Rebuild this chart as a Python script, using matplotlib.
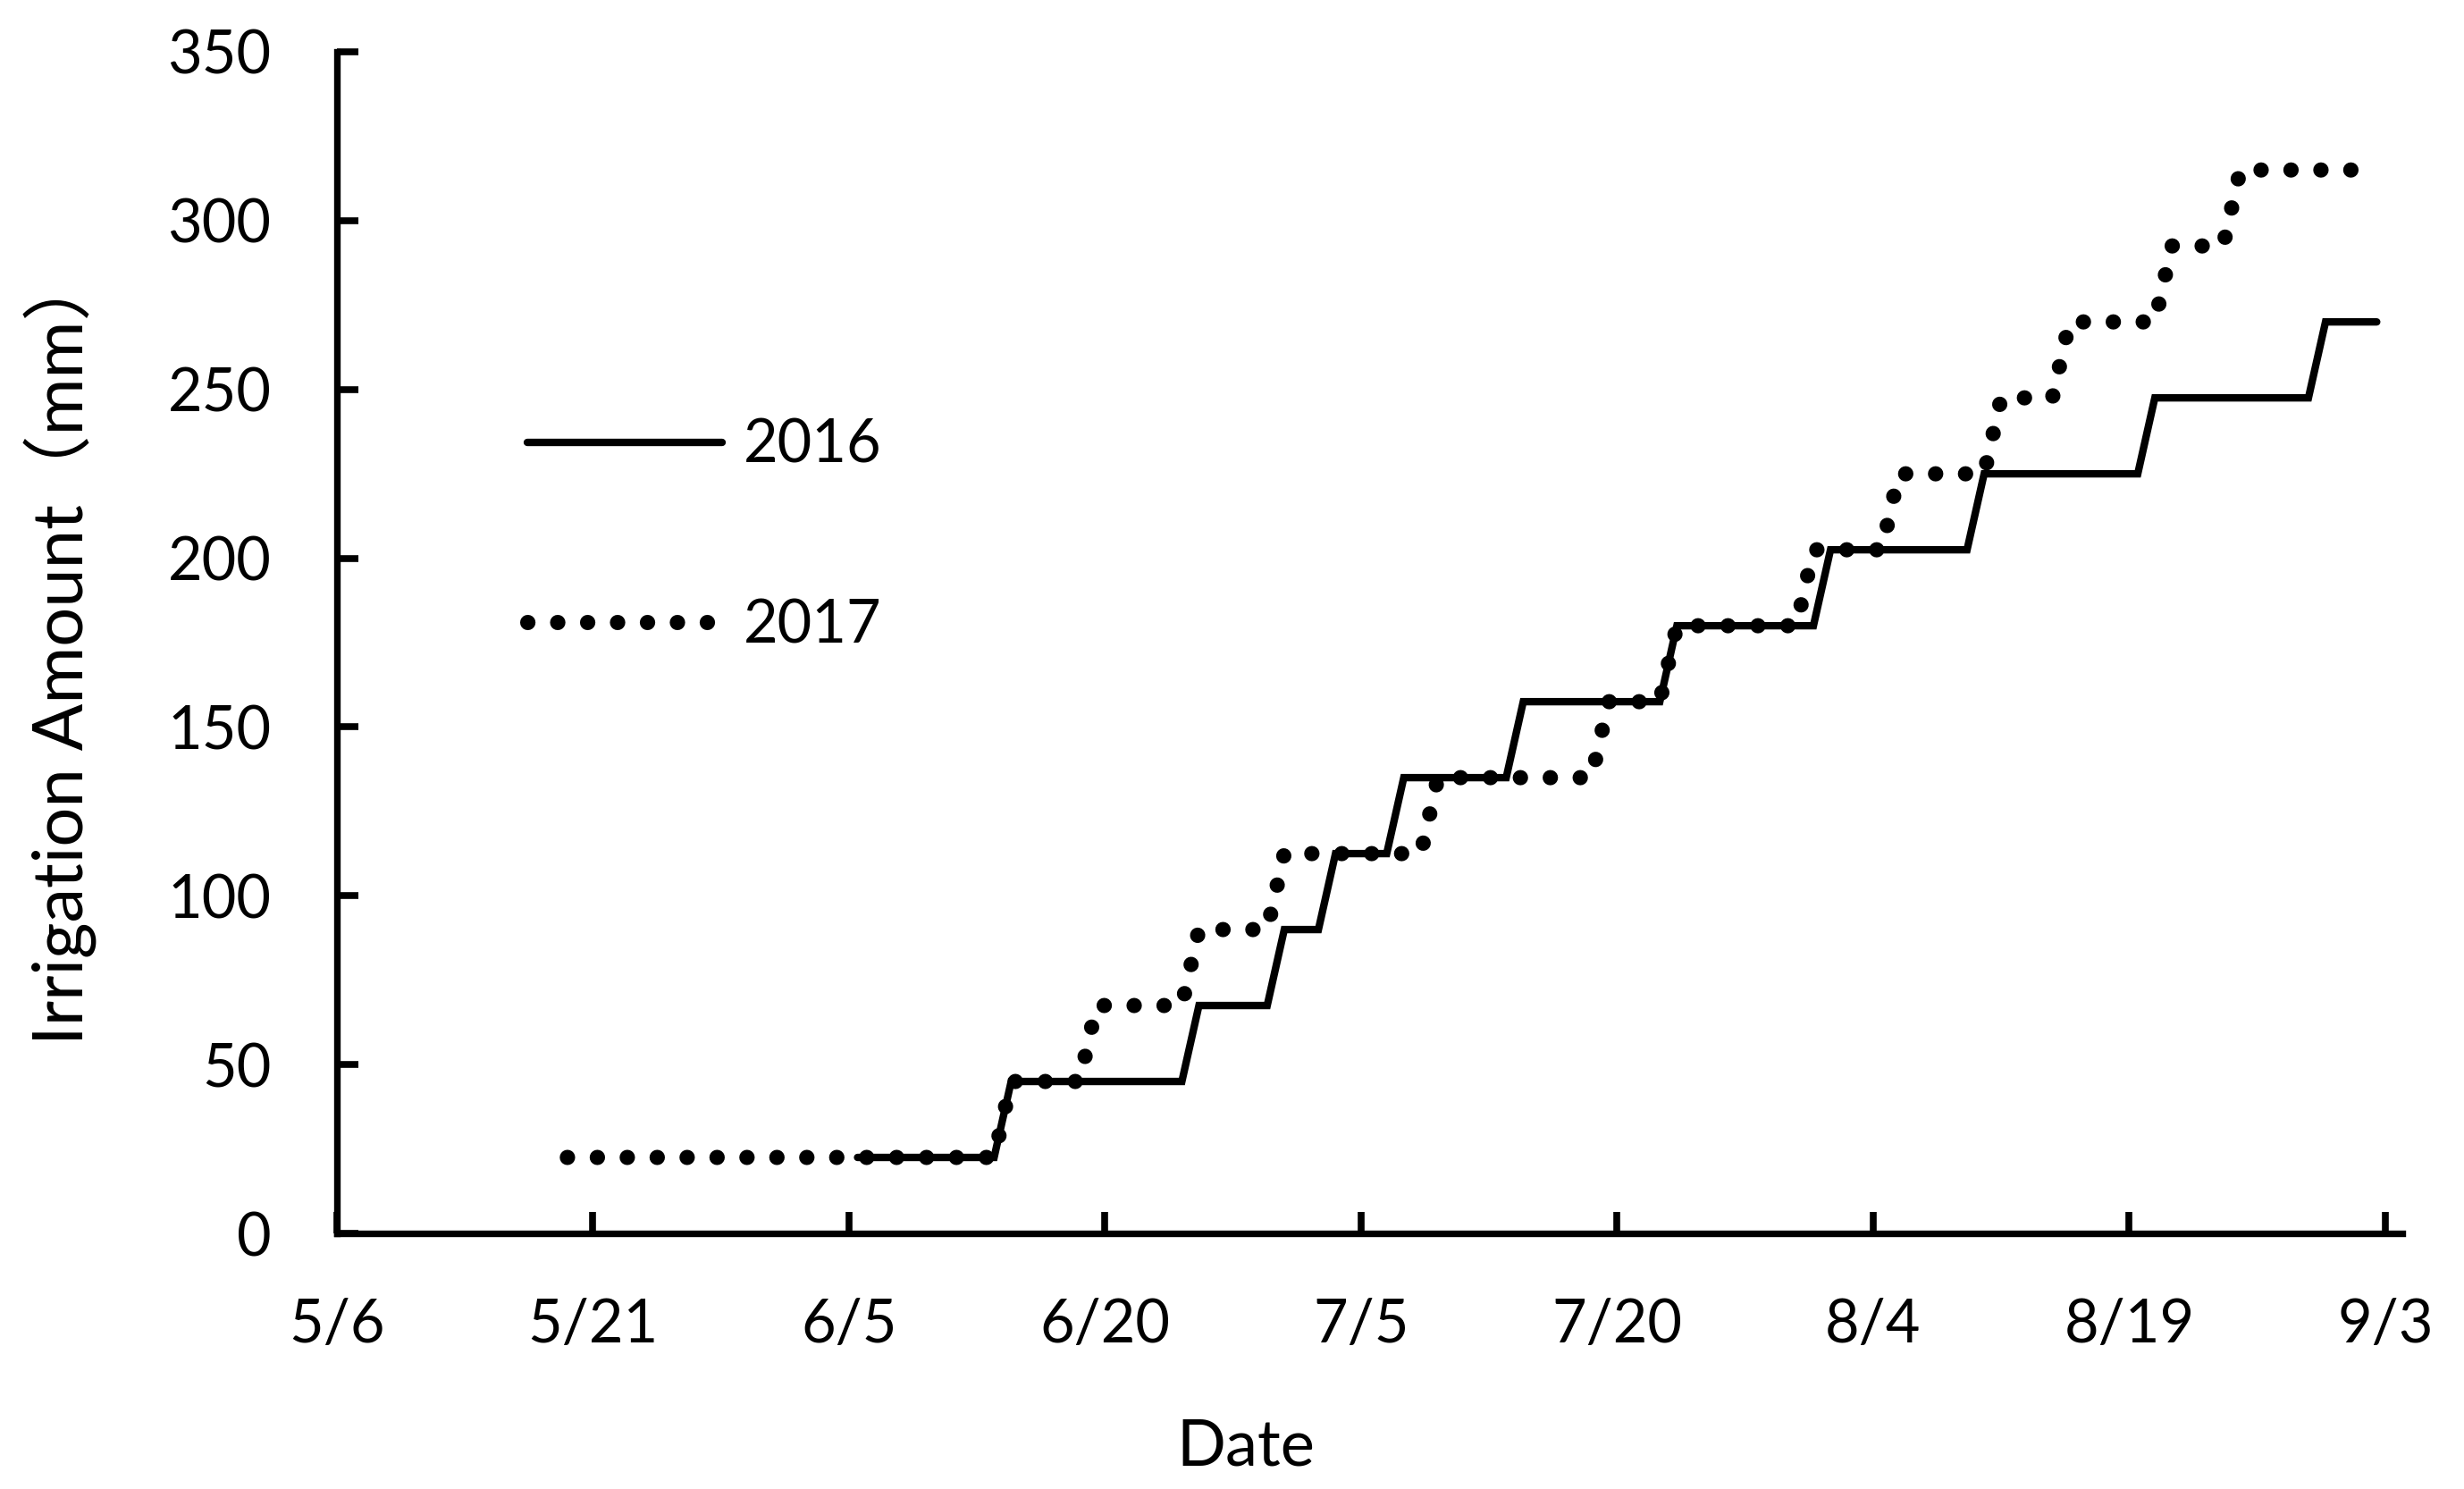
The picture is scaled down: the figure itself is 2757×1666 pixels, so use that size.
import matplotlib
matplotlib.use("Agg")
import matplotlib.pyplot as plt

plt.rcParams['font.family'] = ['Lato', 'Noto Sans CJK SC', 'DejaVu Sans']

# x positions are days counted from 5/6; each daily value sits in the middle of its day
tick_days = [0, 15, 30, 45, 60, 75, 90, 105, 120]
tick_labels = ['5/6', '5/21', '6/5', '6/20', '7/5', '7/20', '8/4', '8/19', '9/3']
y_ticks = [0, 50, 100, 150, 200, 250, 300, 350]

# 2016: first day, last day, starting amount, irrigation days and cumulative amounts (mm)
start_2016 = 30
end_2016 = 119
base_2016 = 22.5
irr_days_2016 = [39, 50, 55, 58, 62, 69, 78, 87, 96, 106, 116]
cum_2016 = [45, 67.5, 90, 112.5, 135, 157.5, 180, 202.5, 225, 247.5, 270]

# 2017
start_2017 = 13
end_2017 = 119
base_2017 = 22.5
irr_days_2017 = [39, 44, 50, 55, 64, 74, 78, 86, 91, 97, 101, 107, 111]
cum_2017 = [45, 67.5, 90, 112.5, 135, 157.5, 180, 202.5, 225, 247.5, 270, 292.5, 315]


def step_path(start, end, base, days, cums):
    xs = [start + 0.5]
    ys = [base]
    prev = base
    for d, c in zip(days, cums):
        xs += [d - 0.5, d + 0.5]
        ys += [prev, c]
        prev = c
    xs.append(end + 0.5)
    ys.append(prev)
    return xs, ys


W, H = 2757, 1666
fig = plt.figure(figsize=(W / 100, H / 100), dpi=100)
ax = fig.add_axes([377 / W, 1 - 1380 / H, (2688 - 377) / W, (1380 - 58) / H])

x16, y16 = step_path(start_2016, end_2016, base_2016, irr_days_2016, cum_2016)
x17, y17 = step_path(start_2017, end_2017, base_2017, irr_days_2017, cum_2017)

ax.plot(x16, y16, color='black', lw=6.0, solid_capstyle='round',
        solid_joinstyle='miter', label='2016', zorder=3)
ax.plot(x17, y17, color='black', lw=12.3, linestyle=(0, (0.01, 1.95)),
        dash_capstyle='round', label='2017', zorder=4)

ax.set_xlim(0, 121)
ax.set_ylim(0, 350)
ax.set_xticks(tick_days)
ax.set_xticklabels(tick_labels)
ax.set_yticks(y_ticks)

for s in ['top', 'right']:
    ax.spines[s].set_visible(False)
for s in ['left', 'bottom']:
    ax.spines[s].set_linewidth(5.3)
    ax.spines[s].set_capstyle('projecting')

ax.tick_params(axis='both', direction='in', length=17, width=5.5,
               labelsize=48, color='black')
ax.tick_params(axis='y', pad=53)
ax.tick_params(axis='x', pad=52)

fig.text(1394 / W, 1 - 1640 / H, 'Date', fontsize=52, ha='center', va='baseline')
fig.text(93 / W, 1 - 725 / H, 'Irrigation Amount（mm）', fontsize=56,
         rotation=90, rotation_mode='anchor', ha='center', va='baseline')

leg = ax.legend(loc='upper left', bbox_to_anchor=(590 / W, 1 - 468 / H),
                bbox_transform=fig.transFigure, frameon=False, fontsize=48,
                handlelength=3.27, handletextpad=0.36, labelspacing=2.09,
                borderpad=0, borderaxespad=0)

fig.savefig('out.png', dpi=100, facecolor='white')
